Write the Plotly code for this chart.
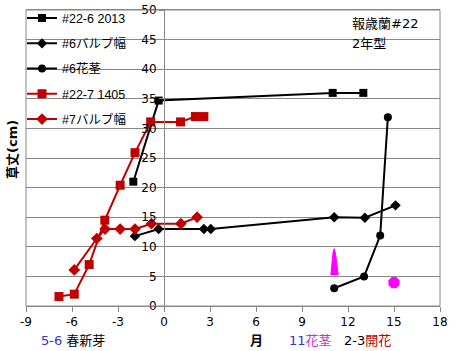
import plotly.graph_objects as go

# ---- data ----
s1_name = "#22-6 2013"
s1_x = [-2, -0.35, 11, 13]
s1_y = [21, 34.7, 36, 36]

s2_name = "#6バルブ幅"
s2_x = [-1.9, -0.35, 2.6, 3.05, 11.1, 13.1, 15.1]
s2_y = [11.8, 13.0, 13.0, 13.0, 15.0, 14.9, 17.0]

s3_name = "#6花茎"
s3_x = [11.1, 13.05, 14.1, 14.6]
s3_y = [3.0, 5.0, 11.9, 31.9]

s4_name = "#22-7 1405"
s4_x = [-6.85, -5.85, -4.88, -3.86, -2.86, -1.89, -0.87, 1.08, 2.05, 2.6]
s4_y = [1.6, 2.0, 7.0, 14.5, 20.4, 25.9, 31.1, 31.1, 32.0, 32.0]

s5_name = "#7バルブ幅"
s5_x = [-5.85, -4.38, -3.84, -2.86, -1.89, -0.82, 1.1, 2.16]
s5_y = [6.1, 11.4, 13.0, 13.0, 13.0, 13.9, 13.9, 15.0]

# flower-stalk and flowering symbols
spike_x = [10.88, 11.02, 11.1, 11.18, 11.36]
spike_y = [5.2, 9.0, 9.7, 9.0, 5.2]
flower_x = [15.0]
flower_y = [3.95]

x_ticks = [-9, -6, -3, 0, 3, 6, 9, 12, 15, 18]
x_ticktext = ["-9", "-6", "-3", "0", "3", "6", "9", "12", "15", "18"]
y_ticks = [0, 5, 10, 15, 20, 25, 30, 35, 40, 45, 50]

BLACK = "#000000"
RED = "#C00000"
MAG = "#FF00FF"
GRID = "#888888"
FONT = "DejaVu Sans, Noto Sans CJK JP"
LFONT = "Liberation Sans, Noto Sans CJK JP"

fig = go.Figure()

def add(name, xs, ys, color, symbol, msize, group):
    fig.add_trace(go.Scatter(
        x=xs, y=ys, name=name, mode="lines+markers",
        line=dict(color=color, width=2),
        marker=dict(symbol=symbol, size=msize, color=color),
        legendgroup=group,
    ))

add(s1_name, s1_x, s1_y, BLACK, "square", 8, "g1")
add(s2_name, s2_x, s2_y, BLACK, "diamond", 8, "g2")
add(s3_name, s3_x, s3_y, BLACK, "circle", 8, "g3")
add(s4_name, s4_x, s4_y, RED, "square", 9, "g4")
add(s5_name, s5_x, s5_y, RED, "diamond", 9, "g5")

fig.add_trace(go.Scatter(x=spike_x, y=spike_y, mode="lines", fill="toself",
                         fillcolor=MAG, line=dict(color=MAG, width=1),
                         showlegend=False, hoverinfo="skip"))
fig.add_trace(go.Scatter(x=flower_x, y=flower_y, mode="markers",
                         marker=dict(symbol="octagon", size=12, color=MAG),
                         showlegend=False))

pw, ph = 414, 296
ml, mt = 26, 10

fig.update_layout(
    width=459, height=351,
    margin=dict(l=ml, r=459 - ml - pw, t=mt, b=351 - mt - ph, autoexpand=False),
    paper_bgcolor="white", plot_bgcolor="white",
    font=dict(family=FONT, size=12, color="#000000"),
    showlegend=True,
    legend=dict(x=-4 / pw, y=1.022, xanchor="left", yanchor="top",
                bgcolor="rgba(0,0,0,0)", font=dict(family=LFONT, size=12.5),
                traceorder="grouped", tracegroupgap=6, itemwidth=30),
    xaxis=dict(range=[-9, 18], tickvals=x_ticks, ticktext=x_ticktext,
               showgrid=False, zeroline=False,
               showline=True, linecolor=GRID, linewidth=1, mirror=True,
               ticks="outside", ticklen=5, tickcolor=GRID,
               tickfont=dict(family=FONT, size=12)),
    yaxis=dict(range=[0, 50], tickvals=y_ticks, showgrid=True, gridcolor=GRID,
               gridwidth=1, zeroline=False, showline=True, linecolor=GRID,
               anchor="free", position=9 / 27, ticks="outside", ticklen=5,
               tickcolor=GRID, tickfont=dict(family=FONT, size=12),
               automargin=False),
    shapes=[dict(type="rect", xref="paper", yref="paper", x0=0, x1=1, y0=0, y1=1,
                 line=dict(color=GRID, width=1), fillcolor="rgba(0,0,0,0)")],
)

def py(pix):
    return (mt + ph - pix) / ph

def px(pix):
    return (pix - ml) / pw

ann = [
    dict(text="<b>草丈(cm)</b>", x=px(12), y=py(150), textangle=-90, size=13, color="#000000", xanchor="center"),
    dict(text="報歳蘭#22", x=px(350), y=py(23), size=13, color="#000000", xanchor="left"),
    dict(text="2年型", x=px(350), y=py(43), size=13, color="#000000", xanchor="left"),
    dict(text="<span style='color:#3333CC'>5-6</span> 春新芽", x=px(39), y=py(340), size=13, color="#000000", xanchor="left"),
    dict(text="<b>月</b>", x=px(256), y=py(340), size=13, color="#000000", xanchor="center"),
    dict(text="<span style='color:#3333CC'>11</span><span style='color:#CC33CC'>花茎</span>", x=px(287), y=py(340), size=13, color="#000000", xanchor="left"),
    dict(text="2-3<span style='color:#C00000'>開花</span>", x=px(342), y=py(340), size=13, color="#000000", xanchor="left"),
]
for a in ann:
    fig.add_annotation(text=a["text"], x=a["x"], y=a["y"], xref="paper", yref="paper",
                       xanchor=a["xanchor"], yanchor="middle", showarrow=False,
                       textangle=a.get("textangle", 0),
                       font=dict(family=FONT, size=a["size"], color=a["color"]))

fig.write_html("out.html")
